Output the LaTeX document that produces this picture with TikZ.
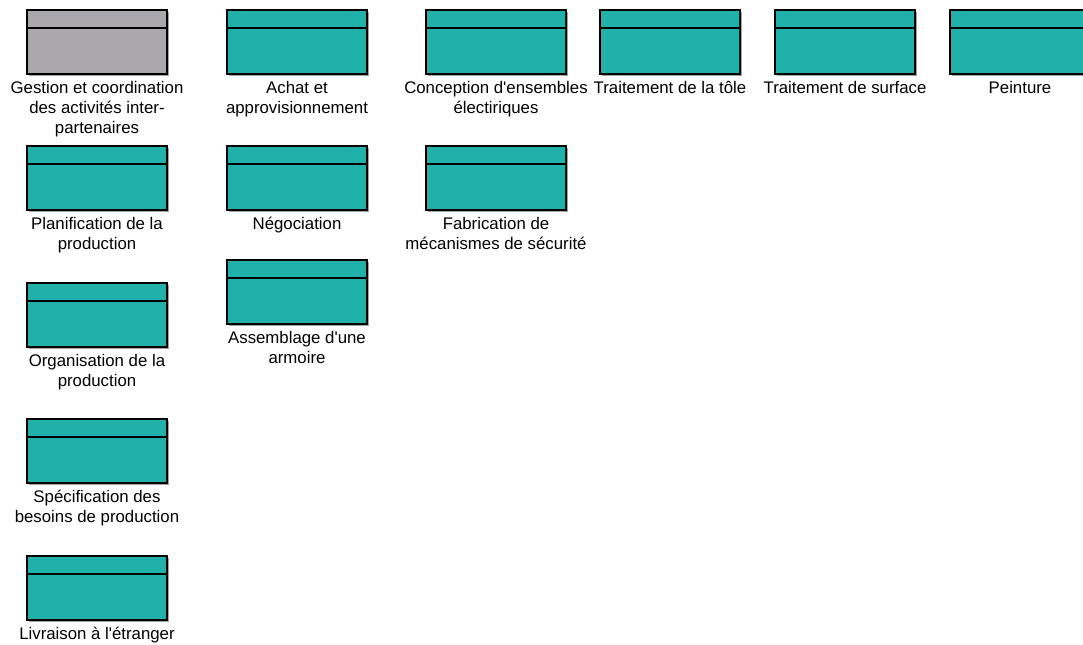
\documentclass[tikz,border=0pt]{standalone}
\usepackage{fontspec}
\setmainfont{Liberation Sans}
\usetikzlibrary{shadows}
\definecolor{procteal}{RGB}{32,178,170}
\definecolor{procgrey}{RGB}{170,168,172}

\begin{document}
\begin{tikzpicture}[x=0.75pt,y=0.75pt]
\tikzstyle{proc} = [draw=black, line width=1pt, fill=procteal, minimum width=105pt, minimum height=48pt, inner sep=0pt,
  drop shadow={shadow xshift=1.2pt, shadow yshift=-1.2pt, fill=black!60, opacity=0.6},
  path picture={\draw[line width=1pt] ([yshift=-13.5pt]path picture bounding box.north west) -- ([yshift=-13.5pt]path picture bounding box.north east);}]
\tikzstyle{txt} = [font=\fontsize{12.6}{14.8}\selectfont, align=center, inner sep=0pt, label distance=5pt]

\useasboundingbox (0,0) rectangle (1083,-644);
\clip (0,0) rectangle (1083,-644);

% first row
\node[proc, fill=procgrey, label={[txt] below:Gestion et coordination\\des activit\'es inter-\\partenaires}] (gestion) at (97,-42) {};

\node[proc, label={[txt] below:Achat et\\approvisionnement}] (achat) at (297,-42) {};

\node[proc, label={[txt] below:Conception d{\textquotesingle}ensembles\\\'electiriques}] (conception) at (496,-42) {};

\node[proc, label={[txt] below:Traitement de la t\^ole}] (tole) at (670,-42) {};

\node[proc, label={[txt] below:Traitement de surface}] (surface) at (845,-42) {};

\node[proc, label={[txt] below:Peinture}] (peinture) at (1020,-42) {};

% second row
\node[proc, label={[txt] below:Planification de la\\production}] (planif) at (97,-178) {};

\node[proc, label={[txt] below:N\'egociation}] (nego) at (297,-178) {};

\node[proc, label={[txt] below:Fabrication de\\m\'ecanismes de s\'ecurit\'e}] (fabrication) at (496,-178) {};

% the rest
\node[proc, label={[txt] below:Assemblage d{\textquotesingle}une\\armoire}] (assemblage) at (297,-292) {};

\node[proc, label={[txt] below:Organisation de la\\production}] (organisation) at (97,-315) {};

\node[proc, label={[txt] below:Sp\'ecification des\\besoins de production}] (specif) at (97,-451) {};

\node[proc, label={[txt] below:Livraison \`a l{\textquotesingle}\'etranger}] (livraison) at (97,-588) {};

\end{tikzpicture}
\end{document}
